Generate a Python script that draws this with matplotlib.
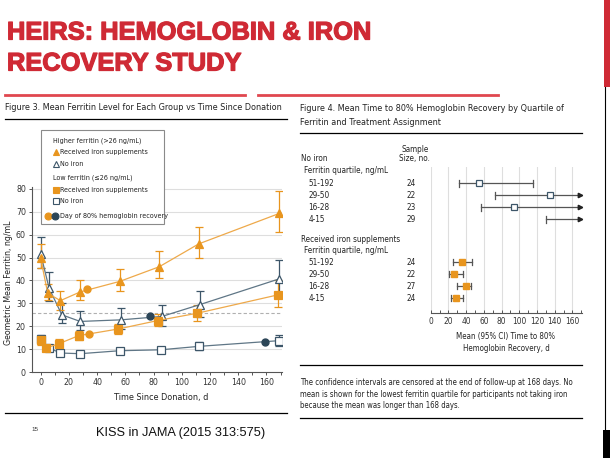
import matplotlib
matplotlib.use('Agg')
import matplotlib.pyplot as plt
import matplotlib.transforms as mtransforms
import matplotlib.patheffects as pe
from matplotlib.patches import Rectangle
from matplotlib.lines import Line2D
import numpy as np

# ---- data: Figure 3, geometric mean ferritin (ng/mL) vs day ----
hi_iron_days = [0, 5, 14, 28, 56, 84, 112, 169]
hi_iron = [49.7, 34.4, 31.2, 35.0, 39.6, 46.0, 56.0, 69.3]
hi_iron_lo = [45.5, 31.5, 27.2, 31.3, 35.5, 41.0, 50.0, 61.0]
hi_iron_hi = [56.0, 38.5, 35.2, 40.0, 45.0, 52.8, 63.3, 79.0]

hi_none_days = [0, 6, 15, 28, 57, 86, 113, 169]
hi_none = [51.6, 36.6, 25.0, 22.1, 22.8, 24.3, 29.5, 40.7]
hi_none_lo = [45.5, 31.0, 21.4, 18.5, 19.0, 20.2, 24.0, 34.5]
hi_none_hi = [59.2, 43.6, 30.0, 26.5, 28.0, 29.4, 35.6, 49.0]

lo_iron_days = [0, 4, 13, 27, 55, 83, 111, 168]
lo_iron = [14.1, 10.5, 12.4, 15.9, 18.8, 22.5, 25.7, 33.7]
lo_iron_lo = [12.0, 9.5, 10.5, 14.0, 16.5, 20.0, 22.5, 28.5]
lo_iron_hi = [15.7, 11.5, 14.5, 17.8, 21.0, 25.5, 29.5, 40.0]

lo_none_days = [0, 6, 14, 28, 56, 85, 112, 169]
lo_none = [14.5, 10.5, 8.3, 8.0, 9.3, 9.7, 11.2, 13.7]
lo_none_lo = [13.0, 9.5, 7.5, 7.2, 8.3, 8.5, 9.5, 11.5]
lo_none_hi = [16.0, 11.5, 9.2, 8.8, 10.3, 11.0, 13.0, 16.0]

# day of 80% hemoglobin recovery (day, ferritin)
recov_hi_iron = (33, 36.2)
recov_lo_iron = (34, 16.7)
recov_hi_none = (77.5, 24.3)
recov_lo_none = (159, 13.1)

# ---- data: Figure 4, mean (95% CI) days to 80% recovery ----
quartiles = ['51-192', '29-50', '16-28', '4-15']
none_n = [24, 22, 23, 29]
none_mean = [54, 135, 94, None]
none_lo = [32, 73, 57, 130]
none_hi = [116, 168, 168, 168]
none_censored = [False, True, True, True]
iron_n = [24, 22, 27, 24]
iron_mean = [35, 26, 40, 29]
iron_lo = [25.5, 20.3, 29.3, 22.6]
iron_hi = [46.6, 36.8, 45.1, 36.1]

ORANGE = '#e8951e'
ORANGE_LN = '#eea94a'
SLATE = '#3d5669'
SLATE_LN = '#5f7686'
NAVY = '#2b4557'
RED = '#cf2a35'
GRID = '#dedede'
FONT = ['DejaVu Sans']
STRETCH = 'condensed'

W, H = 610, 458
fig = plt.figure(figsize=(6.1, 4.58), dpi=100)


def fx(x):
    return x / W


def fy(y):
    return 1 - y / H


def hline(x0, x1, y, color='black', lw=1.0):
    fig.add_artist(Line2D([fx(x0), fx(x1)], [fy(y), fy(y)], color=color, lw=lw))


def txt(x, y, s, size=6.3, **kw):
    kw.setdefault('family', FONT)
    kw.setdefault('stretch', STRETCH)
    kw.setdefault('color', '#222222')
    return fig.text(fx(x), fy(y), s, fontsize=size, **kw)


# slide title
for y, line in [(39.5, 'HEIRS: HEMOGLOBIN & IRON'), (70.5, 'RECOVERY STUDY')]:
    t = txt(7, y, line, size=18.3, family='Liberation Sans', stretch='normal',
            weight='bold', color=RED, va='baseline')
    t.set_path_effects([pe.withStroke(linewidth=0.9, foreground=RED)])
hline(5, 245, 94.5, color='#e0474f', lw=2)
hline(258, 498, 94.5, color='#e0474f', lw=2)

# right edge decorations
fig.add_artist(Rectangle((fx(604), fy(87)), fx(6), 87 / H, color=RED, lw=0))
fig.add_artist(Line2D([fx(604.5), fx(604.5)], [fy(87), fy(432)], color='black', lw=0.8))
fig.add_artist(Rectangle((fx(603), 0), fx(7), 28 / H, color='black', lw=0))

# ---------------- Figure 3 ----------------
txt(5, 110, 'Figure 3. Mean Ferritin Level for Each Group vs Time Since Donation',
    size=6.5, va='baseline')
hline(5, 287, 118.5, lw=0.9)
hline(5, 287, 413, lw=0.9)

ax1 = fig.add_axes([fx(32.2), fy(372), (282 - 32.2) / W, (372 - 186.7) / H])
ax1.set_xlim(-6, 171)
ax1.set_ylim(0, 81)
for v in range(10, 81, 10):
    ax1.axhline(v, color=GRID, lw=0.8, zorder=0)
ax1.axhline(26, color='#b0b0b0', lw=0.8, ls=(0, (3, 2)), zorder=0)


def series(days, vals, lo, hi, marker, fill, line_color, edge):
    vals = np.array(vals)
    err = [vals - np.array(lo), np.array(hi) - vals]
    ax1.errorbar(days, vals, yerr=err, color=line_color, lw=0.9, ecolor=edge,
                 elinewidth=0.9, capsize=3, capthick=0.9, marker=marker, ms=5.4,
                 mfc=fill, mec=edge, mew=0.9, zorder=3)


series(lo_none_days, lo_none, lo_none_lo, lo_none_hi, 's', 'white', SLATE_LN, SLATE)
series(hi_none_days, hi_none, hi_none_lo, hi_none_hi, '^', 'white', SLATE_LN, SLATE)
series(lo_iron_days, lo_iron, lo_iron_lo, lo_iron_hi, 's', ORANGE, ORANGE_LN, ORANGE)
series(hi_iron_days, hi_iron, hi_iron_lo, hi_iron_hi, '^', ORANGE, ORANGE_LN, ORANGE)
for (d, v), c in [(recov_hi_iron, ORANGE), (recov_lo_iron, ORANGE),
                  (recov_hi_none, NAVY), (recov_lo_none, NAVY)]:
    ax1.plot(d, v, 'o', color=c, ms=5, zorder=4)

ax1.set_xticks(range(0, 161, 20))
ax1.set_xticks(range(0, 171, 10), minor=True)
ax1.set_yticks(range(0, 81, 10))
for s in ['top', 'right']:
    ax1.spines[s].set_visible(False)
for s in ['left', 'bottom']:
    ax1.spines[s].set_color('#555555')
    ax1.spines[s].set_linewidth(0.8)
ax1.tick_params(which='both', length=2.5, width=0.7, color='#555555',
                labelsize=6.3, labelcolor='#333333', pad=2)
for lab in ax1.get_xticklabels() + ax1.get_yticklabels():
    lab.set_family(FONT)
    lab.set_stretch(STRETCH)
ax1.set_xlabel('Time Since Donation, d', fontsize=6.5, family=FONT, stretch=STRETCH,
               color='#222222')
ax1.xaxis.set_label_coords(0.517, -0.115)
ax1.set_ylabel('Geometric Mean Ferritin, ng/mL', fontsize=6.3, family=FONT, stretch=STRETCH,
               color='#222222')
ax1.yaxis.set_label_coords(-0.077, 0.48)

# legend box
fig.add_artist(Rectangle((fx(40.7), fy(224.3)), (164.3 - 40.7) / W, (224.3 - 130) / H,
                         facecolor='white', edgecolor='#8a8a8a', lw=0.8, zorder=5))


def leg_marker(x, y, marker, fill, edge, ms=4.6):
    fig.add_artist(Line2D([fx(x)], [fy(y)], marker=marker, ls='none', ms=ms,
                          mfc=fill, mec=edge, mew=0.8, zorder=6))


LEG = 5.15
txt(53, 142.7, 'Higher ferritin (>26 ng/mL)', size=LEG, va='baseline', zorder=6)
leg_marker(55.5, 152, '^', ORANGE, ORANGE)
txt(60, 154.3, 'Received iron supplements', size=LEG, va='baseline', zorder=6)
leg_marker(55.5, 163.7, '^', 'white', SLATE)
txt(60, 166, 'No iron', size=LEG, va='baseline', zorder=6)
txt(53, 179.3, 'Low ferritin (≤26 ng/mL)', size=LEG, va='baseline', zorder=6)
leg_marker(55.5, 189.5, 's', ORANGE, ORANGE)
txt(60, 191.7, 'Received iron supplements', size=LEG, va='baseline', zorder=6)
leg_marker(55.5, 201, 's', 'white', SLATE)
txt(60, 203.3, 'No iron', size=LEG, va='baseline', zorder=6)
leg_marker(47.7, 215.6, 'o', ORANGE, ORANGE, ms=5)
leg_marker(55.3, 215.6, 'o', NAVY, NAVY, ms=5)
txt(60, 218, 'Day of 80% hemoglobin recovery', size=LEG, va='baseline', zorder=6)

# ---------------- Figure 4 ----------------
txt(300, 111, 'Figure 4. Mean Time to 80% Hemoglobin Recovery by Quartile of',
    size=6.5, va='baseline')
txt(300, 125, 'Ferritin and Treatment Assignment', size=6.5, va='baseline')
hline(300, 582, 132.5, lw=0.9)
hline(300, 582, 364.5, lw=0.9)
hline(300, 582, 417.5, lw=0.9)

ax2 = fig.add_axes([fx(430.7), fy(313), 151.5 / W, (313 - 167) / H])
ax2.set_xlim(0, 171)
ax2.set_ylim(10.81, -1.36)
for v in range(0, 161, 20):
    ax2.axvline(v, color=GRID, lw=0.8, zorder=0)

none_rows = np.arange(len(quartiles))
iron_rows = np.arange(len(quartiles)) + 6.56
cap = 0.27
for r, m, lo, hi, cens in zip(none_rows, none_mean, none_lo, none_hi, none_censored):
    ax2.plot([lo, hi], [r, r], color='#555555', lw=0.9, zorder=2)
    ax2.plot([lo, lo], [r - cap, r + cap], color='#555555', lw=0.9, zorder=2)
    if cens:
        ax2.plot(hi, r, marker='>', color='#222222', ms=3.2, zorder=3, clip_on=False)
    else:
        ax2.plot([hi, hi], [r - cap, r + cap], color='#555555', lw=0.9, zorder=2)
    if m is not None:
        ax2.plot(m, r, 's', ms=4.3, mfc='white', mec=SLATE, mew=0.9, zorder=4)
for r, m, lo, hi in zip(iron_rows, iron_mean, iron_lo, iron_hi):
    ax2.plot([lo, hi], [r, r], color='#555555', lw=0.9, zorder=2)
    ax2.plot([lo, lo], [r - cap, r + cap], color='#555555', lw=0.9, zorder=2)
    ax2.plot([hi, hi], [r - cap, r + cap], color='#555555', lw=0.9, zorder=2)
    ax2.plot(m, r, 's', ms=4.6, color=ORANGE, zorder=4)

ax2.set_yticks([])
ax2.set_xticks(range(0, 161, 20))
ax2.set_xticks(range(0, 171, 10), minor=True)
for s in ['top', 'right', 'left']:
    ax2.spines[s].set_visible(False)
ax2.spines['bottom'].set_color('#555555')
ax2.spines['bottom'].set_linewidth(0.8)
ax2.tick_params(which='both', direction='in', length=2.5, width=0.7, color='#555555',
                labelsize=6.0, labelcolor='#333333', pad=3)
for lab in ax2.get_xticklabels():
    lab.set_family(FONT)
    lab.set_stretch(STRETCH)
txt(506, 339.3, 'Mean (95% CI) Time to 80%', size=5.7, ha='center', va='baseline')
txt(506, 351, 'Hemoglobin Recovery, d', size=5.7, ha='center', va='baseline')

# table labels, tied to the row positions
tr = mtransforms.blended_transform_factory(fig.transFigure, ax2.transData)
tkw = dict(transform=tr, fontsize=5.9, family=FONT, stretch=STRETCH, color='#222222',
           va='center')
fig.text(fx(301), -2.05, 'No iron', **tkw)
fig.text(fx(415), -2.8, 'Sample', ha='center', **tkw)
fig.text(fx(414), -2.05, 'Size, no.', ha='center', **tkw)
fig.text(fx(304.5), -1.03, 'Ferritin quartile, ng/mL', **tkw)
for r, q, n in zip(none_rows, quartiles, none_n):
    fig.text(fx(308.5), r, q, **tkw)
    fig.text(fx(411), r, str(n), ha='center', **tkw)
fig.text(fx(301), 4.72, 'Received iron supplements', **tkw)
fig.text(fx(304.5), 5.6, 'Ferritin quartile, ng/mL', **tkw)
for r, q, n in zip(iron_rows, quartiles, iron_n):
    fig.text(fx(308.5), r, q, **tkw)
    fig.text(fx(411), r, str(n), ha='center', **tkw)

# footnote
FOOT = 5.6
txt(300, 385, 'The confidence intervals are censored at the end of follow-up at 168 days. No',
    size=FOOT, va='baseline')
txt(300, 396.7, 'mean is shown for the lowest ferritin quartile for participants not taking iron',
    size=FOOT, va='baseline')
txt(300, 408.3, 'because the mean was longer than 168 days.', size=FOOT, va='baseline')

# footer
txt(31, 431, '15', size=4.5, family='Liberation Sans', stretch='normal', va='baseline',
    color='#333333')
txt(96, 436, 'KISS in JAMA (2015 313:575)', size=9.2, family='Liberation Sans',
    stretch='normal', va='baseline', color='#111111')

fig.savefig('out.png', dpi=100)
